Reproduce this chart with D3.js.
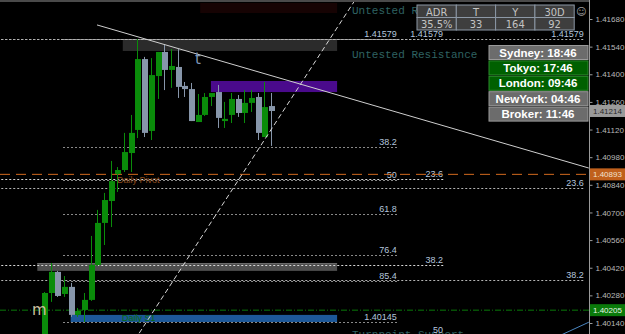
<!DOCTYPE html>
<html>
<head>
<meta charset="utf-8">
<script src="https://cdn.jsdelivr.net/npm/d3@7"></script>
<style>
  html, body { margin: 0; padding: 0; background: #000; overflow: hidden; }
  svg { display: block; }
</style>
</head>
<body>
<svg width="625" height="334"></svg>
<script>
// ===================== DATA =====================
// candles, index 0 .. 34
const opens  = [1.40000,1.40292,1.40399,1.40287,1.40323,1.40181,1.40206,1.40257,1.40434,1.40647,
                1.40758,1.40895,1.40915,1.41001,1.41118,1.41477,1.41113,1.41391,1.41513,1.41422,
                1.41437,1.41341,1.41325,1.41158,1.41194,1.41285,1.41310,1.41163,1.41194,1.41275,
                1.41204,1.41255,1.41285,1.41082,1.41239];
const highs  = [1.40297,1.40444,1.40404,1.40378,1.40343,1.40216,1.40292,1.40581,1.40713,1.40799,
                1.40961,1.40930,1.41103,1.41194,1.41579,1.41488,1.41482,1.41513,1.41553,1.41528,
                1.41528,1.41361,1.41356,1.41300,1.41305,1.41305,1.41346,1.41260,1.41305,1.41295,
                1.41320,1.41320,1.41305,1.41361,1.41305];
const lows   = [1.39980,1.40247,1.40272,1.40272,1.40171,1.40171,1.40145,1.40252,1.40429,1.40535,
                1.40626,1.40804,1.40905,1.40905,1.41077,1.41082,1.41067,1.41275,1.41320,1.41331,
                1.41280,1.41285,1.41163,1.41158,1.41189,1.41239,1.41128,1.41128,1.41153,1.41184,
                1.41153,1.41209,1.41067,1.41082,1.41037];
const closes = [1.40292,1.40399,1.40277,1.40323,1.40181,1.40201,1.40257,1.40434,1.40647,1.40763,
                1.40859,1.40915,1.41006,1.41103,1.41477,1.41103,1.41396,1.41513,1.41422,1.41442,
                1.41336,1.41325,1.41163,1.41194,1.41285,1.41305,1.41179,1.41174,1.41275,1.41204,
                1.41255,1.41280,1.41103,1.41234,1.41214];

const tickVals = [1.41680,1.41540,1.41400,1.41260,1.41120,1.40980,1.40840,1.40700,1.40560,1.40420,1.40280,1.40140];

// zones: [startIdx, endIdx, top, bottom, fill]
const zoneStart  = [11.8, 25.0, -1.0, 4.0];
const zoneEnd    = [43.9, 43.9, 43.9, 43.9];
const zoneTop    = [1.41579, 1.41366, 1.40444, 1.40181];
const zoneBottom = [1.41518, 1.41310, 1.40404, 1.40145];
const zoneFill   = ["#2b2b2b", "#4a0a8c", "#4e4e4e", "#1d5898"];

// fibonacci sets (high -> low), drawn levels and where the lines start / end
const fibHigh   = 1.41579;
const fibLow    = [1.40145, 1.38575, 1.38383];
const fibLevels = [[0, 38.2, 50, 61.8, 76.4, 85.4, 100], [0, 23.6, 38.2, 50], [0, 23.6, 38.2]];
const fibFrom   = [2.85, -7, -7];
const fibTo     = [53.0, 59.9, 81.0];
const fibColor  = ["#8a8a8a", "#d8d8d8", "#b4b4b4"];

const pivot = 1.40893, s1 = 1.40205, lastPrice = 1.41214;

// trend lines: [idx1, price1, idx2, price2]
const trendSolid  = [7.94, 1.41650, 81.6, 1.40925];
const trendDashed = [13.6, 1.40054, 46.4, 1.41766];
const trendBlue   = [77.5, 1.40080, 81.6, 1.40144];

const adrHead = ["ADR", "T", "Y", "30D"];
const adrVals = ["35.5%", "33", "164", "92"];

const sessions    = ["Sydney: 18:46", "Tokyo: 17:46", "London: 09:46", "NewYork: 04:46", "Broker: 11:46"];
const sessionOpen = [false, true, true, false, false];

// ===================== SCALES =====================
const svg = d3.select("svg");
const W = 625, H = 334, axisX = 589;

const y = d3.scaleLinear().domain([1.41680, 1.40140]).range([19, 323]);
const x = d3.scaleLinear().domain([0, 34]).range([44, 271]);

svg.append("rect").attr("width", W).attr("height", H).attr("fill", "#000");

svg.append("defs").append("clipPath").attr("id", "plot")
  .append("rect").attr("x", 0).attr("y", 0).attr("width", axisX).attr("height", H);

const plot = svg.append("g").attr("clip-path", "url(#plot)");

// top frame line + dark red strip
plot.append("line").attr("x1", 0).attr("x2", W).attr("y1", 1).attr("y2", 1)
  .attr("stroke", "#4a4a4a").attr("stroke-width", 2);
plot.append("rect").attr("x", x(23.4)).attr("y", 3).attr("width", x(43.9) - x(23.4)).attr("height", 10)
  .attr("fill", "#160303");

// ===================== ZONES =====================
plot.selectAll(".zone").data(zoneTop).enter().append("rect")
  .attr("class", "zone")
  .attr("x", (d, i) => x(zoneStart[i]))
  .attr("width", (d, i) => x(zoneEnd[i]) - x(zoneStart[i]))
  .attr("y", d => y(d))
  .attr("height", (d, i) => y(zoneBottom[i]) - y(d))
  .attr("fill", (d, i) => zoneFill[i]);
// lighter edge on the lower grey bar
plot.append("line").attr("x1", x(zoneStart[2])).attr("x2", x(zoneEnd[2]))
  .attr("y1", y(zoneTop[2]) + 0.5).attr("y2", y(zoneTop[2]) + 0.5).attr("stroke", "#6a6a6a");

// ===================== TEXT BEHIND =====================
const mono = "11px 'Liberation Mono', monospace";
plot.append("text").attr("x", 352).attr("y", y(1.41705)).text("Untested Resistance")
  .attr("fill", "#2f6262").style("font", mono);
plot.append("text").attr("x", 352).attr("y", y(1.41480)).text("Untested Resistance")
  .attr("fill", "#2f6262").style("font", mono);
plot.append("text").attr("x", 352).attr("y", y(1.40064)).text("Turnpoint Support")
  .attr("fill", "#2f6262").style("font", mono);

// ===================== FIBONACCI =====================
fibLow.forEach((low, k) => {
  const g = plot.append("g");
  const lv = fibLevels[k];
  g.selectAll("line").data(lv).enter().append("line")
    .attr("x1", x(fibFrom[k])).attr("x2", x(fibTo[k]))
    .attr("y1", d => Math.round(y(fibHigh - (fibHigh - low) * d / 100)) + 0.5)
    .attr("y2", d => Math.round(y(fibHigh - (fibHigh - low) * d / 100)) + 0.5)
    .attr("stroke", fibColor[k]).attr("stroke-dasharray", "2,2");
  g.selectAll("text").data(lv).enter().append("text")
    .attr("x", x(fibTo[k]) - 1)
    .attr("y", d => y(fibHigh - (fibHigh - low) * d / 100) - 2)
    .attr("text-anchor", "end")
    .attr("fill", "#b4c6de")
    .style("font", "9px 'Liberation Sans', sans-serif")
    .text(d => d === 0 ? fibHigh.toFixed(5) : d === 100 ? low.toFixed(5) : d3.format(".1f")(d).replace(".0", ""));
});

// pivot (orange) and S1 (green)
plot.append("line").attr("x1", 0).attr("x2", axisX).attr("y1", y(pivot)).attr("y2", y(pivot))
  .attr("stroke", "#d2691e").attr("stroke-dasharray", "10,6");
plot.append("text").attr("x", 117).attr("y", y(pivot) + 9).text("Daily Pivot")
  .attr("fill", "#8b4a1a").style("font", "9px 'Liberation Sans', sans-serif");
plot.append("line").attr("x1", 0).attr("x2", axisX).attr("y1", y(s1)).attr("y2", y(s1))
  .attr("stroke", "#0a7a0a").attr("stroke-dasharray", "6,2,1,2");
plot.append("text").attr("x", 122).attr("y", y(s1) + 11).text("Daily S1")
  .attr("fill", "#0a6a0a").style("font", "9px 'Liberation Sans', sans-serif");

// ===================== CANDLES =====================
const candles = plot.selectAll(".candle").data(closes).enter().append("g").attr("class", "candle");
const col = (d, i) => d >= opens[i] ? "#0a8c0a" : "#8796aa";
candles.append("line")
  .attr("x1", (d, i) => Math.round(x(i)) + 0.5).attr("x2", (d, i) => Math.round(x(i)) + 0.5)
  .attr("y1", (d, i) => y(highs[i])).attr("y2", (d, i) => y(lows[i]))
  .attr("stroke", col);
candles.append("rect")
  .attr("x", (d, i) => Math.round(x(i)) - 2)
  .attr("width", 6)
  .attr("y", (d, i) => y(Math.max(d, opens[i])))
  .attr("height", (d, i) => Math.max(1.5, Math.abs(y(d) - y(opens[i]))))
  .attr("fill", col);

// ===================== TREND LINES =====================
plot.append("line")
  .attr("x1", x(trendSolid[0])).attr("y1", y(trendSolid[1]))
  .attr("x2", x(trendSolid[2])).attr("y2", y(trendSolid[3]))
  .attr("stroke", "#cfcfcf");
plot.append("line")
  .attr("x1", x(trendDashed[0])).attr("y1", y(trendDashed[1]))
  .attr("x2", x(trendDashed[2])).attr("y2", y(trendDashed[3]))
  .attr("stroke", "#d8d8d8").attr("stroke-dasharray", "5,3");
plot.append("line")
  .attr("x1", x(trendBlue[0])).attr("y1", y(trendBlue[1]))
  .attr("x2", x(trendBlue[2])).attr("y2", y(trendBlue[3]))
  .attr("stroke", "#4a86c0");

// small markers
plot.append("text").attr("x", 195).attr("y", y(1.41450)).text("t")
  .attr("fill", "#7f96b8").style("font", "15px 'DejaVu Sans', sans-serif");
plot.append("text").attr("x", 32).attr("y", y(1.40180)).text("m")
  .attr("fill", "#cdbf9f").style("font", "15px 'DejaVu Sans', sans-serif");

// ===================== AXIS =====================
const small = "8px 'Liberation Sans', sans-serif";
const axis = svg.append("g").attr("transform", `translate(${axisX + 0.5},0)`)
  .call(d3.axisRight(y).tickValues(tickVals).tickSize(3).tickPadding(3).tickFormat(d3.format(".5f")));
axis.select(".domain").attr("stroke", "#9a9a9a").attr("d", `M0,0V${H}`);
axis.selectAll(".tick line").attr("stroke", "#9a9a9a");
axis.selectAll(".tick text").attr("fill", "#b8b8b8").style("font", small);

// price tags
const tagPrices = [pivot, lastPrice, s1];
const tagFill   = ["#c0601c", "#9a9a9a", "#0a7a0a"];
const tagText   = ["#f0e0d0", "#2a2a2a", "#e8f4e8"];
const tags = svg.selectAll(".tag").data(tagPrices).enter().append("g").attr("class", "tag");
tags.append("rect").attr("x", axisX + 1).attr("width", W - axisX - 1)
  .attr("y", d => y(d) - 6).attr("height", 12).attr("fill", (d, i) => tagFill[i]);
tags.append("text").attr("x", axisX + 4).attr("y", d => y(d) + 3)
  .attr("fill", (d, i) => tagText[i]).style("font", small)
  .text(d => d.toFixed(5));

// ===================== ADR TABLE =====================
const cellW = 39.3, cellH = 12.5, tabX = 417, tabY = 5;
const table = svg.append("g");
[adrHead, adrVals].forEach((row, r) => {
  const cells = table.selectAll(".r" + r).data(row).enter().append("g").attr("class", "r" + r);
  cells.append("rect")
    .attr("x", (d, i) => tabX + i * cellW).attr("y", tabY + r * cellH)
    .attr("width", cellW).attr("height", cellH)
    .attr("fill", "#3e3e3e").attr("stroke", "#8c98a6");
  cells.append("text")
    .attr("x", (d, i) => tabX + i * cellW + cellW / 2).attr("y", tabY + r * cellH + 10.5)
    .attr("text-anchor", "middle").attr("fill", "#c4c4c4")
    .style("font", "11px 'DejaVu Sans Condensed', 'Liberation Sans', sans-serif")
    .text(d => d);
});
svg.append("text").attr("x", 576).attr("y", 15).text("\u263A")
  .attr("fill", "#a0a0a0").style("font", "10px 'DejaVu Sans', sans-serif");

// ===================== SESSIONS =====================
const sess = svg.selectAll(".sess").data(sessions).enter().append("g").attr("class", "sess");
sess.append("rect")
  .attr("x", 489).attr("width", 99)
  .attr("y", (d, i) => 45.5 + i * 15.4).attr("height", 14)
  .attr("fill", (d, i) => sessionOpen[i] ? "#006000" : "#6c6c6c")
  .attr("stroke", (d, i) => sessionOpen[i] ? "#2c8a2c" : "#9a9a9a");
sess.append("text")
  .attr("x", 538).attr("y", (d, i) => 56.5 + i * 15.4)
  .attr("text-anchor", "middle").attr("fill", "#ffffff")
  .style("font", "bold 11.5px 'Liberation Sans', sans-serif")
  .text(d => d);
</script>
</body>
</html>
